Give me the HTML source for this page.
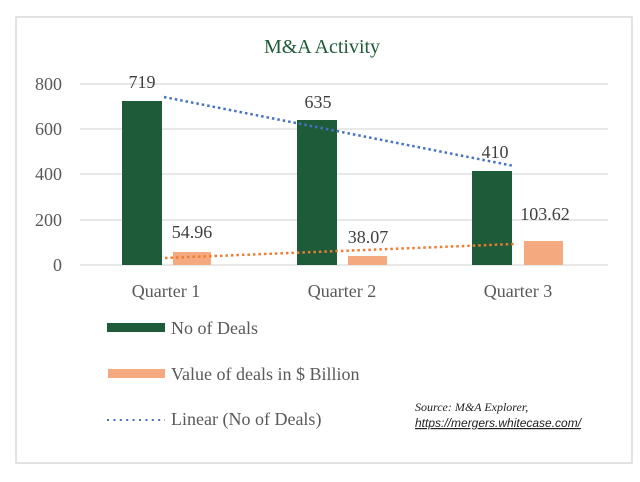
<!DOCTYPE html>
<html><head><style>body{margin:0;background:#fff}</style></head><body>
<svg width="640" height="477" xmlns="http://www.w3.org/2000/svg" font-family="Liberation Serif, serif">
<rect x="0" y="0" width="640" height="477" fill="#fff"/>
<rect x="16" y="17" width="616" height="446" fill="#fff" stroke="#d9d9d9" stroke-width="1.5"/>
<text x="322" y="53" font-size="20" fill="#1e5b38" text-anchor="middle">M&amp;A Activity</text>
<g stroke="#d9d9d9" stroke-width="1.2">
<line x1="80" y1="84" x2="608" y2="84"/><line x1="80" y1="129" x2="608" y2="129"/>
<line x1="80" y1="174" x2="608" y2="174"/><line x1="80" y1="220" x2="608" y2="220"/>
<line x1="80" y1="265" x2="608" y2="265"/></g>
<g font-size="18" fill="#595959" text-anchor="end">
<text x="62" y="90">800</text><text x="62" y="135">600</text><text x="62" y="180">400</text><text x="62" y="226">200</text><text x="62" y="271">0</text></g>
<g fill="#1e5b38"><rect x="122" y="101" width="40" height="164"/><rect x="297" y="120" width="40" height="145"/><rect x="472" y="171" width="40" height="94"/></g>
<g fill="#f4a97f"><rect x="173" y="252" width="38" height="13"/><rect x="348" y="256" width="39" height="9"/><rect x="524" y="241" width="39" height="24"/></g>
<line x1="164" y1="97" x2="514" y2="166" stroke="#4472c4" stroke-width="2.5" stroke-dasharray="2.5 3"/>
<line x1="165" y1="258" x2="514" y2="244" stroke="#ed7d31" stroke-width="2.5" stroke-dasharray="2.5 3"/>
<g font-size="18" fill="#404040" text-anchor="middle">
<text x="142" y="88">719</text><text x="318" y="108">635</text><text x="495" y="158">410</text>
<text x="192" y="238">54.96</text><text x="368" y="243">38.07</text><text x="545" y="220">103.62</text></g>
<g font-size="18" fill="#595959" text-anchor="middle">
<text x="166" y="297">Quarter 1</text><text x="342" y="297">Quarter 2</text><text x="518" y="297">Quarter 3</text></g>
<rect x="107" y="323" width="58" height="9" fill="#1e5b38"/>
<rect x="108" y="369" width="57" height="9" fill="#f4a97f"/>
<line x1="107" y1="420" x2="165" y2="420" stroke="#4472c4" stroke-width="2" stroke-dasharray="2 4.4"/>
<g font-size="18" fill="#595959">
<text x="171" y="334">No of Deals</text><text x="171" y="380">Value of deals in $ Billion</text><text x="171" y="425">Linear (No of Deals)</text></g>
<text x="415" y="411" font-size="12" font-style="italic" fill="#222">Source: M&amp;A Explorer,</text>
<text x="415" y="427" font-size="12" font-style="italic" fill="#222" font-family="Liberation Sans, sans-serif" text-decoration="underline">https://mergers.whitecase.com/</text>
</svg>
</body></html>
